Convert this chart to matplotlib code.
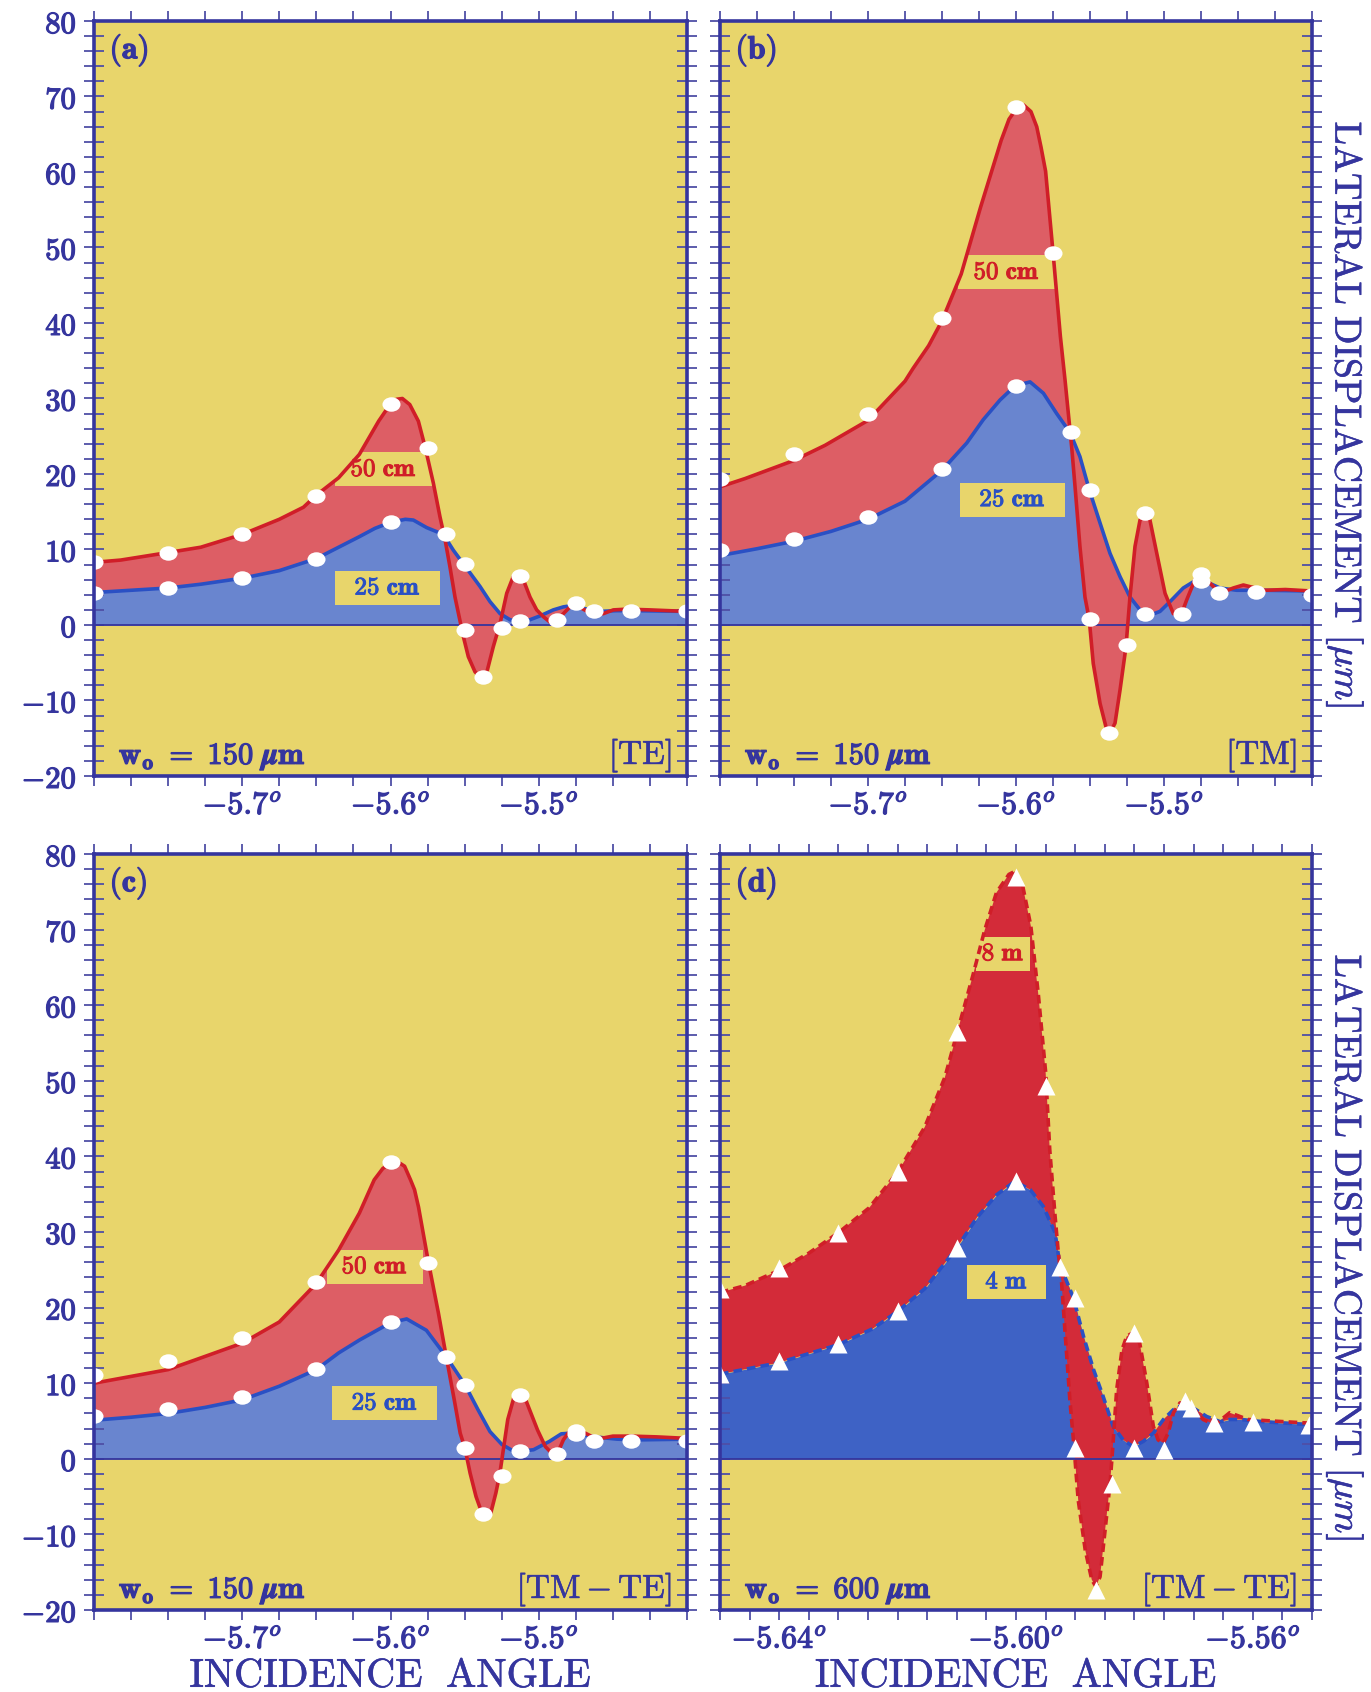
import numpy as np
import matplotlib
matplotlib.use('Agg')
import matplotlib.pyplot as plt
import matplotlib.patheffects as pe
from matplotlib.path import Path
from matplotlib.transforms import Affine2D
from matplotlib.ticker import MultipleLocator, FixedLocator

plt.rcParams['mathtext.fontset'] = 'cm'
plt.rcParams['font.family'] = 'serif'

# ---------------- data ----------------
# panel (a): TE, w0 = 150 um
a_x_red = [-5.800, -5.782, -5.750, -5.728, -5.700, -5.675, -5.6587, -5.650, -5.635, -5.621, -5.608,
           -5.600, -5.5958, -5.592, -5.587, -5.5812, -5.5767, -5.5711, -5.5666, -5.5632, -5.5599, -5.5565,
           -5.5509, -5.5475, -5.5430, -5.5385, -5.5347, -5.5307, -5.5261, -5.5216, -5.5172, -5.5138,
           -5.5104, -5.5059, -5.5014, -5.4969, -5.4913, -5.4879, -5.4834, -5.4789, -5.4756, -5.4710,
           -5.4643, -5.4565, -5.4497, -5.4407, -5.4250, -5.400]
a_red = [8.3, 8.6, 9.6, 10.3, 12.0, 14.0, 15.6, 17.2, 19.5, 22.6, 27.0,
         29.3, 29.9, 30.0, 29.2, 27.0, 23.6, 18.8, 14.3, 11.3, 7.7, 3.7,
         -1.5, -4.2, -6.2, -7.1, -6.0, -2.9, 0.2, 4.2, 6.4, 6.6,
         6.0, 3.7, 2.0, 1.1, 0.2, 0.4, 1.5, 2.4, 2.8, 2.2,
         1.5, 1.5, 2.0, 2.1, 2.0, 1.8]
a_x_blue = [-5.800, -5.775, -5.750, -5.728, -5.700, -5.675, -5.650, -5.635, -5.621, -5.6105,
            -5.600, -5.590, -5.5846, -5.5756, -5.5644, -5.5576, -5.5486, -5.5396, -5.5329, -5.5261,
            -5.5194, -5.5126, -5.5059, -5.4992, -5.4902, -5.4834, -5.4767, -5.4699, -5.4587, -5.4474,
            -5.4362, -5.400]
a_blue = [4.3, 4.6, 4.9, 5.4, 6.2, 7.2, 8.8, 10.3, 11.7, 12.8,
          13.6, 14.0, 13.9, 12.9, 12.0, 9.9, 7.5, 5.1, 3.1, 1.5,
          0.7, 0.4, 0.7, 1.2, 2.0, 2.4, 2.6, 2.2, 1.8, 1.9,
          1.9, 1.8]
a_mark_x = [-5.8, -5.8, -5.75, -5.75, -5.70, -5.70, -5.65, -5.65, -5.60, -5.60, -5.575, -5.5625,
            -5.55, -5.55, -5.5375, -5.525, -5.5125, -5.5125, -5.4875, -5.475, -5.4625, -5.4375, -5.40]
a_mark_y = [8.3, 4.3, 9.6, 4.9, 12.0, 6.2, 17.1, 8.8, 29.3, 13.6, 23.4, 12.1,
            8.1, -0.6, -6.9, -0.4, 6.5, 0.5, 0.7, 2.9, 1.8, 1.9, 1.8]

# panel (b): TM, w0 = 150 um
b_x_red = [-5.800, -5.783, -5.750, -5.729, -5.700, -5.675, -5.6695, -5.659, -5.650, -5.637, -5.624,
           -5.610, -5.6047, -5.600, -5.595, -5.5899, -5.586, -5.5831, -5.580, -5.575, -5.570, -5.5669,
           -5.5624, -5.5601, -5.5568, -5.5534, -5.5505, -5.5478, -5.5432, -5.5387, -5.5365, -5.5331,
           -5.5297, -5.5257, -5.5230, -5.5196, -5.5162, -5.5128, -5.5095, -5.5049, -5.4993, -5.4937,
           -5.4885, -5.4847, -5.4791, -5.4734, -5.4667, -5.4622, -5.4532, -5.4464, -5.432, -5.418, -5.400]
b_red = [18.3, 19.4, 21.8, 23.8, 27.1, 32.3, 34.0, 37.0, 40.3, 46.5, 55.3,
         64.2, 67.0, 68.3, 68.9, 68.0, 66.0, 63.3, 60.1, 49.4, 38.2, 32.5,
         23.6, 18.3, 10.4, 3.7, 0.7, -5.1, -10.4, -13.9, -14.3, -13.0,
         -8.6, -2.9, 3.7, 10.4, 13.9, 14.8, 13.9, 9.5, 4.2, 1.5,
         1.3, 3.3, 6.0, 6.4, 5.1, 4.2, 4.9, 5.3, 4.6, 4.7, 4.5]
b_x_blue = [-5.800, -5.775, -5.750, -5.725, -5.700, -5.675, -5.650, -5.6333, -5.6221, -5.6108,
            -5.6005, -5.5905, -5.5815, -5.5725, -5.5635, -5.5568, -5.5505, -5.5432, -5.5365, -5.5297,
            -5.5230, -5.5162, -5.5095, -5.5027, -5.4959, -5.4870, -5.4779, -5.4712, -5.4622, -5.4509,
            -5.432, -5.400]
b_blue = [9.2, 10.1, 11.1, 12.4, 14.0, 16.4, 20.5, 24.1, 27.2, 29.8,
          31.7, 32.2, 30.7, 28.0, 25.5, 22.3, 17.9, 13.5, 9.5, 6.4,
          3.7, 2.0, 1.3, 1.8, 3.1, 4.9, 6.0, 5.7, 4.9, 4.6,
          4.6, 4.5]
b_mark_x = [-5.8, -5.8, -5.75, -5.75, -5.70, -5.70, -5.65, -5.65, -5.60, -5.60, -5.575, -5.5625,
            -5.55, -5.55, -5.5375, -5.525, -5.5125, -5.5125, -5.4875, -5.475, -5.475, -5.4625, -5.4375, -5.40]
b_mark_y = [19.4, 9.9, 22.6, 11.4, 28.0, 14.3, 40.7, 20.7, 68.6, 31.7, 49.3, 25.5,
            17.9, 0.8, -14.3, -2.7, 14.9, 1.5, 1.4, 6.7, 5.8, 4.2, 4.4, 4.0]

# panel (c): TM - TE, w0 = 150 um
c_x_red = [-5.800, -5.750, -5.700, -5.675, -5.650, -5.635, -5.621, -5.611, -5.6052, -5.600, -5.5972,
           -5.5945, -5.5905, -5.5865, -5.5838, -5.5811, -5.5747, -5.5677, -5.5624, -5.5570, -5.5530,
           -5.5498, -5.5463, -5.5423, -5.5383, -5.5356, -5.5324, -5.5289, -5.5262, -5.5236, -5.5209,
           -5.5169, -5.5142, -5.5102, -5.5062, -5.5008, -5.4955, -5.4915, -5.4874, -5.4834, -5.4794,
           -5.4746, -5.4687, -5.4607, -5.4500, -5.4371, -5.4205, -5.400]
c_red = [10.0, 11.8, 15.3, 18.1, 23.2, 27.6, 32.5, 36.9, 38.4, 39.1, 39.3,
         39.2, 38.7, 36.9, 35.6, 33.3, 26.3, 19.3, 13.5, 7.8, 3.4,
         1.4, -1.9, -5.0, -7.2, -7.6, -7.2, -4.5, -1.9, 1.6, 5.2,
         8.0, 8.7, 8.5, 6.5, 3.8, 1.6, 0.8, 0.7, 2.5, 3.6,
         3.8, 3.4, 2.6, 3.0, 3.0, 2.9, 2.7]
c_x_blue = [-5.800, -5.775, -5.750, -5.725, -5.700, -5.675, -5.650, -5.635, -5.621, -5.600,
            -5.5891, -5.5758, -5.5624, -5.5498, -5.5410, -5.5329, -5.5249, -5.5169, -5.5121, -5.5035,
            -5.4928, -5.4848, -5.4781, -5.4746, -5.4623, -5.4473, -5.4339, -5.400]
c_blue = [5.1, 5.5, 6.0, 6.8, 7.8, 9.6, 11.8, 14.0, 15.7, 18.0,
          18.5, 17.0, 13.5, 9.8, 6.5, 3.6, 1.9, 1.0, 1.0, 1.2,
          2.3, 3.3, 3.4, 3.3, 2.9, 2.6, 2.5, 2.6]
c_mark_x = [-5.8, -5.8, -5.75, -5.75, -5.70, -5.70, -5.65, -5.65, -5.60, -5.60, -5.575, -5.5625,
            -5.55, -5.55, -5.5375, -5.525, -5.5125, -5.5125, -5.4875, -5.475, -5.475, -5.4625, -5.4375, -5.40]
c_mark_y = [11.1, 5.7, 12.9, 6.6, 16.0, 8.2, 23.4, 11.9, 39.2, 18.1, 25.9, 13.5,
            9.8, 1.4, -7.3, -2.3, 8.4, 1.0, 0.7, 3.7, 3.3, 2.4, 2.4, 2.3]

# panel (d): TM - TE, w0 = 600 um
d_x_red = [-5.6500, -5.6458, -5.6401, -5.6350, -5.6300, -5.6248, -5.6200, -5.6154, -5.6120, -5.6100,
           -5.6073, -5.6053, -5.6033, -5.6012, -5.6002, -5.5989, -5.5975, -5.5962, -5.5950, -5.5943,
           -5.5934, -5.5929, -5.5923, -5.5917, -5.5909, -5.5902, -5.5895, -5.5883, -5.5872, -5.5865,
           -5.5858, -5.5850, -5.5841, -5.5836, -5.5830, -5.5821, -5.5813, -5.5802, -5.5791, -5.5779,
           -5.5768, -5.5760, -5.5751, -5.5743, -5.5734, -5.5723, -5.5703, -5.5684, -5.5664, -5.5639,
           -5.5608, -5.5567, -5.5500]
d_red = [22.0, 22.9, 24.9, 27.2, 29.9, 33.2, 37.9, 43.9, 50.5, 56.2,
         63.9, 69.9, 74.9, 77.3, 77.7, 75.9, 70.5, 61.2, 51.2, 40.9,
         32.1, 27.7, 23.3, 16.6, 7.8, 1.6, -5.4, -12.1, -16.0, -16.9,
         -15.6, -9.8, -3.2, 2.1, 9.1, 14.4, 16.2, 16.7, 15.3, 10.0,
         4.3, 2.5, 2.1, 3.4, 6.1, 7.4, 6.9, 5.2, 4.5, 6.1,
         5.2, 5.0, 4.7]
d_x_blue = [-5.6500, -5.6401, -5.6300, -5.6242, -5.6200, -5.6154, -5.6100, -5.6066, -5.6033, -5.6002,
            -5.5976, -5.5954, -5.5934, -5.5926, -5.5903, -5.5886, -5.5869, -5.5853, -5.5836, -5.5819,
            -5.5802, -5.5785, -5.5768, -5.5751, -5.5734, -5.5717, -5.5700, -5.5678, -5.5655, -5.5639,
            -5.5621, -5.5581, -5.5500]
d_blue = [11.2, 12.7, 15.1, 17.2, 19.5, 22.5, 27.9, 31.9, 34.9, 36.7,
          35.6, 33.4, 29.9, 25.7, 21.3, 16.2, 11.8, 8.3, 4.3, 2.5,
          1.6, 2.3, 3.4, 5.2, 6.5, 7.2, 6.7, 5.6, 4.9, 5.2,
          5.2, 4.9, 4.5]
d_mark_x = [-5.65, -5.65, -5.64, -5.64, -5.63, -5.63, -5.62, -5.62, -5.61, -5.61, -5.60, -5.60, -5.595,
            -5.5925, -5.590, -5.590, -5.5865, -5.5838, -5.580, -5.580, -5.575, -5.5715, -5.5705,
            -5.5665, -5.560, -5.5505]
d_mark_y = [22.4, 11.2, 25.3, 12.9, 29.9, 15.2, 38.0, 19.5, 56.4, 27.9, 76.9, 36.7, 49.3,
            25.4, 21.3, 1.4, -17.3, -3.3, 16.7, 1.4, 1.2, 7.7, 6.7,
            4.7, 4.9, 4.5]

# label boxes: (x, y) of box centre in data units
a_lab_red, a_lab_blue = (-5.6047, 20.6), (-5.602, 4.9)
b_lab_red, b_lab_blue = (-5.6064, 46.7), (-5.6024, 16.6)
c_lab_red, c_lab_blue = (-5.6107, 25.4), (-5.6039, 7.35)
d_lab_red, d_lab_blue = (-5.6022, 66.8), (-5.6016, 23.4)

y_ticks = [-20, -10, 0, 10, 20, 30, 40, 50, 60, 70, 80]
abc_xticks = [-5.7, -5.6, -5.5]
abc_xticklabels = [r'$\mathbf{-5.7}^{o}$', r'$\mathbf{-5.6}^{o}$', r'$\mathbf{-5.5}^{o}$']
d_xticks = [-5.64, -5.60, -5.56]
d_xticklabels = [r'$\mathbf{-5.64}^{o}$', r'$\mathbf{-5.60}^{o}$', r'$\mathbf{-5.56}^{o}$']

# ---------------- style ----------------
BG = '#E8D56B'
AXC = '#35359E'
TICKC = '#4F4FA6'
RED_LINE = '#D01E28'
BLUE_LINE = '#2A50C4'
RED_FILL = '#DD5E65'
BLUE_FILL = '#6985CF'
RED_FILL_D = '#D32B39'
BLUE_FILL_D = '#3E62C5'


def heavy(color, w=0.9):
    return [pe.withStroke(linewidth=w, foreground=color)]


def padded_box(hpad, vpad=0.22):
    """box style with separate horizontal / vertical padding (fractions of font size)"""
    def style(x0, y0, width, height, mutation_size):
        dx, dy = hpad * mutation_size, vpad * mutation_size
        x0, y0 = x0 - dx, y0 - dy
        x1, y1 = x0 + width + 2 * dx, y0 + height + 2 * dy
        return Path([(x0, y0), (x1, y0), (x1, y1), (x0, y1), (x0, y0)], closed=True)
    return style


W, H = 1371, 1692
fig = plt.figure(figsize=(W / 100, H / 100), dpi=100)


def add_axes(left, top, right, bottom):
    return fig.add_axes([left / W, 1 - bottom / H, (right - left) / W, (bottom - top) / H])


ax_a = add_axes(94, 21, 687, 776)
ax_b = add_axes(720, 21, 1312, 776)
ax_c = add_axes(94, 854, 687, 1610)
ax_d = add_axes(720, 854, 1312, 1610)

ellipse = Path.unit_circle().transformed(Affine2D().scale(1.0, 0.8))


def style_axes(ax, xlim, xticks, xticklabels, xminor, show_y):
    ax.set_xlim(xlim)
    ax.set_ylim(-20, 80)
    for s in ax.spines.values():
        s.set_color(AXC)
        s.set_linewidth(2.6)
        s.set_zorder(10)
    ax.xaxis.set_major_locator(FixedLocator(xticks))
    ax.set_xticklabels(xticklabels)
    ax.xaxis.set_minor_locator(MultipleLocator(xminor))
    ax.set_yticks(y_ticks)
    ax.set_yticklabels([r'$\mathbf{%d}$' % v for v in y_ticks])
    ax.yaxis.set_minor_locator(MultipleLocator(2))
    ax.tick_params(axis='x', which='both', direction='out', top=True, bottom=True,
                   length=7, width=1.3, color=TICKC, labelsize=23, labelcolor=AXC, pad=3)
    ax.tick_params(axis='y', which='both', direction='inout', left=True, right=True,
                   length=15, width=1.3, color=TICKC, labelsize=22, labelcolor=AXC, pad=5)
    if not show_y:
        ax.tick_params(axis='y', labelleft=False)
    for lbl in ax.get_xticklabels() + ax.get_yticklabels():
        lbl.set_path_effects(heavy(AXC))


def draw_panel(ax, xr, yr, xb, yb, mx, my, fill_red, fill_blue, dashed, marker, ms):
    xr, yr, xb, yb = map(np.asarray, (xr, yr, xb, yb))
    ax.set_facecolor(BG)
    ax.fill_between(xb, 0, yb, color=fill_blue, lw=0, zorder=1)
    ax.fill(np.r_[xr, xb[::-1]], np.r_[yr, yb[::-1]], color=fill_red, lw=0, zorder=2)
    ax.axhline(0, color=AXC, lw=1.3, zorder=3)
    ls = (0, (2.4, 1.4)) if dashed else '-'
    ax.plot(xb, yb, color=BLUE_LINE, lw=2.6, ls=ls, zorder=5, solid_joinstyle='round')
    ax.plot(xr, yr, color=RED_LINE, lw=2.6, ls=ls, zorder=6, solid_joinstyle='round')
    ax.plot(mx, my, ls='none', marker=marker, ms=ms, mfc='white', mec='none', zorder=8)


def label_box(ax, pos, text, color, hpad):
    ax.text(pos[0], pos[1], text, ha='center', va='center', fontsize=18, color=color, zorder=4,
            path_effects=heavy(color, 0.7),
            bbox=dict(boxstyle=padded_box(hpad), fc=BG, ec='none'))


def corner_texts(ax, tag, w0, mode):
    ax.text(0.026, 0.984, tag, transform=ax.transAxes, ha='left', va='top', fontsize=23,
            color=AXC, path_effects=heavy(AXC))
    ax.text(0.042, 0.016, w0, transform=ax.transAxes, ha='left', va='baseline', fontsize=22,
            color=AXC, path_effects=heavy(AXC))
    ax.text(0.975, 0.016, mode, transform=ax.transAxes, ha='right', va='baseline', fontsize=24,
            color=AXC, path_effects=heavy(AXC, 0.4))


draw_panel(ax_a, a_x_red, a_red, a_x_blue, a_blue, a_mark_x, a_mark_y, RED_FILL, BLUE_FILL, False, ellipse, 13)
draw_panel(ax_b, b_x_red, b_red, b_x_blue, b_blue, b_mark_x, b_mark_y, RED_FILL, BLUE_FILL, False, ellipse, 13)
draw_panel(ax_c, c_x_red, c_red, c_x_blue, c_blue, c_mark_x, c_mark_y, RED_FILL, BLUE_FILL, False, ellipse, 13)
draw_panel(ax_d, d_x_red, d_red, d_x_blue, d_blue, d_mark_x, d_mark_y, RED_FILL_D, BLUE_FILL_D, True, '^', 13)

style_axes(ax_a, (-5.8, -5.4), abc_xticks, abc_xticklabels, 0.025, True)
style_axes(ax_b, (-5.8, -5.4), abc_xticks, abc_xticklabels, 0.025, False)
style_axes(ax_c, (-5.8, -5.4), abc_xticks, abc_xticklabels, 0.025, True)
style_axes(ax_d, (-5.65, -5.55), d_xticks, d_xticklabels, 0.005, False)

cm50, cm25 = r'$\mathbf{50\ cm}$', r'$\mathbf{25\ cm}$'
label_box(ax_a, a_lab_red, cm50, RED_LINE, 0.6)
label_box(ax_a, a_lab_blue, cm25, BLUE_LINE, 0.78)
label_box(ax_b, b_lab_red, cm50, RED_LINE, 0.6)
label_box(ax_b, b_lab_blue, cm25, BLUE_LINE, 0.78)
label_box(ax_c, c_lab_red, cm50, RED_LINE, 0.6)
label_box(ax_c, c_lab_blue, cm25, BLUE_LINE, 0.78)
label_box(ax_d, d_lab_red, r'$\mathbf{8\ m}$', RED_LINE, 0.22)
label_box(ax_d, d_lab_blue, r'$\mathbf{4\ m}$', BLUE_LINE, 0.72)

w150 = r'$\mathbf{w_{o}}\ =\ \mathbf{150}\ \boldsymbol{\mu}\mathbf{m}$'
w600 = r'$\mathbf{w_{o}}\ =\ \mathbf{600}\ \boldsymbol{\mu}\mathbf{m}$'
corner_texts(ax_a, r'$\mathbf{(a)}$', w150, r'$\mathrm{[TE]}$')
corner_texts(ax_b, r'$\mathbf{(b)}$', w150, r'$\mathrm{[TM]}$')
corner_texts(ax_c, r'$\mathbf{(c)}$', w150, r'$[\mathrm{TM}-\mathrm{TE}]$')
corner_texts(ax_d, r'$\mathbf{(d)}$', w600, r'$[\mathrm{TM}-\mathrm{TE}]$')

xlab = r'$\mathrm{INCIDENCE\ \ ANGLE}$'
ylab = r'$\mathrm{LATERAL\ DISPLACEMENT}\ [\mu m]$'
for cx in ((94 + 687) / 2, (720 + 1312) / 2):
    fig.text(cx / W, 0.003, xlab, ha='center', va='baseline', fontsize=29, color=AXC,
             path_effects=heavy(AXC, 0.4))
for cy in (415, 1248):
    fig.text(1345 / W, 1 - cy / H, ylab, ha='center', va='center', rotation=-90, fontsize=27,
             color=AXC, path_effects=heavy(AXC, 0.4))

fig.savefig('out.png', dpi=100, facecolor='white')
